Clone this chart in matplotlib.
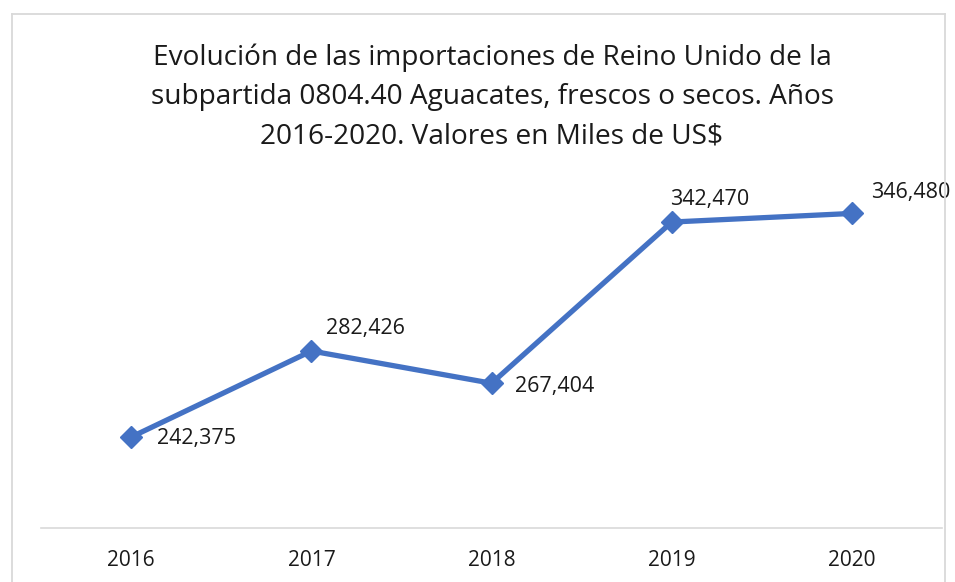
import matplotlib.pyplot as plt
from matplotlib.lines import Line2D

years = ['2016', '2017', '2018', '2019', '2020']
values = [242375, 282426, 267404, 342470, 346480]
labels = ['242,375', '282,426', '267,404', '342,470', '346,480']

# label offsets in points (dx, dy)
offsets = [(18.5, -1), (10.5, 16), (17, -2.5), (-1.5, 16), (13.5, 15)]

plt.rcParams['font.family'] = ['Open Sans', 'DejaVu Sans']

W, H = 955, 582
fig = plt.figure(figsize=(W / 100, H / 100), dpi=100)
ax = fig.add_axes([41.2 / W, 1 - 528 / H, (942 - 41.2) / W, (528 - 98.5) / H])

x = list(range(len(years)))
ax.plot(x, values, color='#4472C4', linewidth=3.8, marker='D', markersize=11,
        solid_capstyle='round', solid_joinstyle='round')

for i, (v, lab) in enumerate(zip(values, labels)):
    ax.annotate(lab, (i, v), xytext=offsets[i], textcoords='offset points',
                ha='left', va='center', fontsize=15.5, color='#1a1a1a')

ax.set_xlim(-0.5, len(years) - 0.5)
ax.set_ylim(200000, 400000)
ax.set_xticks(x)
ax.set_xticklabels(years, fontsize=15, color='#1a1a1a')
ax.tick_params(axis='x', length=0, pad=16)
ax.set_yticks([])
for s in ['left', 'right', 'top']:
    ax.spines[s].set_visible(False)
ax.spines['bottom'].set_color('#d9d9d9')
ax.spines['bottom'].set_linewidth(1.2)

fig.text(492 / W, 1 - 97 / H,
         'Evolución de las importaciones de Reino Unido de la\n'
         'subpartida 0804.40 Aguacates, frescos o secos. Años\n'
         '2016-2020. Valores en Miles de US$',
         ha='center', va='center', fontsize=20.2, color='#1a1a1a', linespacing=1.52)

# chart border
bc = '#d9d9d9'
fig.add_artist(Line2D([12 / W, 12 / W], [0, 1 - 14 / H], color=bc, lw=1.3))
fig.add_artist(Line2D([12 / W, 945 / W], [1 - 14 / H, 1 - 14 / H], color=bc, lw=1.3))
fig.add_artist(Line2D([945 / W, 945 / W], [0, 1 - 14 / H], color=bc, lw=1.3))

fig.savefig('out.png', dpi=100)
